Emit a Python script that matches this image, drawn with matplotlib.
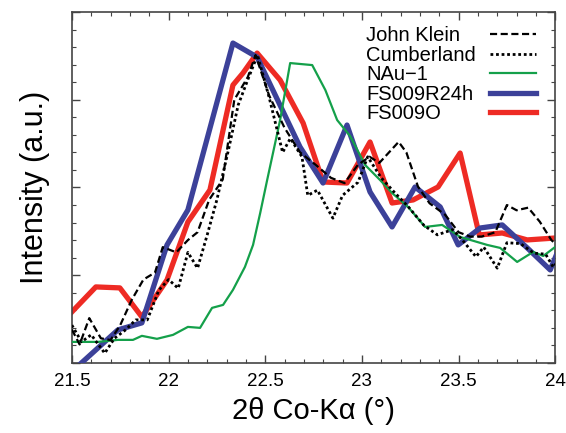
import matplotlib
matplotlib.use("Agg")
import matplotlib.pyplot as plt
from matplotlib.ticker import MultipleLocator, NullFormatter

plt.rcParams['font.family'] = ['Liberation Sans', 'DejaVu Sans']

# John Klein (dashed)
jk_x = [21.50, 21.54, 21.59, 21.65, 21.70, 21.75, 21.81, 21.87, 21.93, 21.97,
        22.04, 22.10, 22.15, 22.21, 22.28, 22.34, 22.41, 22.45, 22.52, 22.60,
        22.68, 22.76, 22.84, 22.91, 22.98, 23.04, 23.09, 23.19, 23.23, 23.29,
        23.35, 23.43, 23.50, 23.56, 23.62, 23.69, 23.75, 23.80, 23.86, 23.92,
        23.98, 24.01]
jk_y = [0.38, 0.21, 0.51, 0.28, 0.26, 0.43, 0.72, 0.95, 1.03, 1.32,
        1.26, 1.40, 1.49, 1.86, 2.09, 3.00, 3.26, 3.51, 3.05, 2.68,
        2.40, 2.26, 2.11, 2.05, 2.26, 2.35, 2.28, 2.52, 2.40, 2.01,
        1.82, 1.69, 1.49, 1.44, 1.44, 1.49, 1.80, 1.74, 1.77, 1.61,
        1.40, 1.34]

# Cumberland (dotted)
cb_x = [21.50, 21.55, 21.60, 21.67, 21.72, 21.78, 21.83, 21.89, 21.95, 22.00,
        22.05, 22.10, 22.15, 22.20, 22.25, 22.31, 22.36, 22.41, 22.46, 22.52,
        22.59, 22.63, 22.69, 22.72, 22.77, 22.85, 22.90, 22.98, 23.03, 23.10,
        23.17, 23.24, 23.32, 23.39, 23.47, 23.52, 23.59, 23.63, 23.70, 23.75,
        23.82, 23.89, 23.95, 23.99, 24.01]
cb_y = [0.43, 0.24, 0.32, 0.11, 0.28, 0.38, 0.49, 0.49, 0.83, 0.95,
        0.85, 1.26, 1.08, 1.46, 1.86, 2.43, 2.94, 3.23, 3.51, 3.03,
        2.40, 2.56, 2.35, 1.91, 1.97, 1.65, 1.91, 2.06, 2.35, 2.11,
        1.94, 1.78, 1.57, 1.46, 1.52, 1.40, 1.21, 1.32, 1.08, 1.37,
        1.36, 1.25, 1.24, 1.09, 1.15]

# NAu-1 (green)
nau_x = [21.500, 21.635, 21.738, 21.816, 21.862, 21.940, 22.023, 22.100, 22.163,
         22.225, 22.282, 22.333, 22.395, 22.437, 22.474, 22.510, 22.577, 22.629,
         22.743, 22.811, 22.872, 22.939, 23.017, 23.094, 23.156, 23.239, 23.327,
         23.415, 23.508, 23.648, 23.715, 23.803, 23.886, 23.938, 24.000]
nau_y = [0.239, 0.239, 0.262, 0.262, 0.308, 0.274, 0.319, 0.410, 0.399,
         0.627, 0.661, 0.832, 1.094, 1.345, 1.709, 2.085, 2.769, 3.419,
         3.396, 3.111, 2.769, 2.587, 2.256, 2.085, 1.937, 1.778, 1.550,
         1.573, 1.436, 1.345, 1.311, 1.151, 1.265, 1.219, 1.322]

# FS009R24h (blue)
r24_x = [21.500, 21.738, 21.862, 21.992, 22.100, 22.333, 22.458, 22.680, 22.799,
         22.923, 23.042, 23.156, 23.275, 23.405, 23.498, 23.612, 23.726, 23.855,
         23.974, 24.010]
r24_y = [-0.10, 0.376, 0.456, 1.345, 1.744, 3.647, 3.487, 2.462, 2.051,
         2.712, 1.949, 1.550, 2.006, 1.778, 1.345, 1.538, 1.573, 1.311,
         1.060, 1.254]

# FS009O (red)
o_x = [21.500, 21.624, 21.748, 21.862, 21.992, 22.100, 22.214, 22.333, 22.385,
       22.458, 22.577, 22.696, 22.799, 22.923, 23.042, 23.156, 23.265, 23.394,
       23.508, 23.607, 23.726, 23.855, 24.000]
o_y = [0.581, 0.866, 0.855, 0.524, 0.946, 1.607, 1.972, 3.168, 3.305,
       3.533, 3.225, 2.735, 2.063, 2.051, 2.519, 1.823, 1.858, 2.006,
       2.393, 1.459, 1.481, 1.402, 1.424]

fig = plt.figure(figsize=(5.66, 4.33), dpi=100)
ax = fig.add_axes([0.127, 0.162, 0.854, 0.810])

ax.plot(jk_x, jk_y, color='black', linestyle=(0, (3.2, 1.6)), linewidth=1.6,
        label='John Klein', zorder=5)
ax.plot(cb_x, cb_y, color='black', linestyle=(0, (1, 1)), linewidth=2.0,
        label='Cumberland', zorder=6)
ax.plot(nau_x, nau_y, color='#14a04a', linewidth=1.6, label='NAu\u22121', zorder=4)
ax.plot(r24_x, r24_y, color='#3c4199', linewidth=3.8, label='FS009R24h', zorder=3)
ax.plot(o_x, o_y, color='#ee2b24', linewidth=3.8, label='FS009O', zorder=2)

ax.set_xlim(21.5, 24)
ax.set_ylim(0, 4)
ax.xaxis.set_major_locator(MultipleLocator(0.5))
ax.xaxis.set_minor_locator(MultipleLocator(0.1))
ax.yaxis.set_major_locator(MultipleLocator(1))
ax.yaxis.set_minor_locator(MultipleLocator(0.2))
ax.yaxis.set_major_formatter(NullFormatter())
ax.set_xticks([21.5, 22, 22.5, 23, 23.5, 24])
ax.set_xticklabels(['21.5', '22', '22.5', '23', '23.5', '24'])
ax.tick_params(which='both', direction='in', top=True, right=True, color='#444444')
ax.tick_params(which='major', length=6, width=1, labelsize=13.5, pad=7)
ax.tick_params(which='minor', length=3, width=0.8)
for s in ax.spines.values():
    s.set_color('#444444')
    s.set_linewidth(1.2)

ax.set_xlabel('2\u03b8 Co-K\u03b1 (\u00b0)', fontsize=21, labelpad=5)
ax.set_ylabel('Intensity (a.u.)', fontsize=22, labelpad=9)

leg = ax.legend(loc='upper right', bbox_to_anchor=(0.985, 0.995), frameon=False,
                markerfirst=False, fontsize=14.5, handlelength=2.3, handletextpad=0.3,
                labelspacing=0.03, borderaxespad=0.2)
# left-align the labels, keep the line samples in a right-hand column
for row in leg._legend_handle_box.get_children()[0].get_children():
    row.mode = 'expand'
    row.width = 170

fig.savefig('out.png', dpi=100)
